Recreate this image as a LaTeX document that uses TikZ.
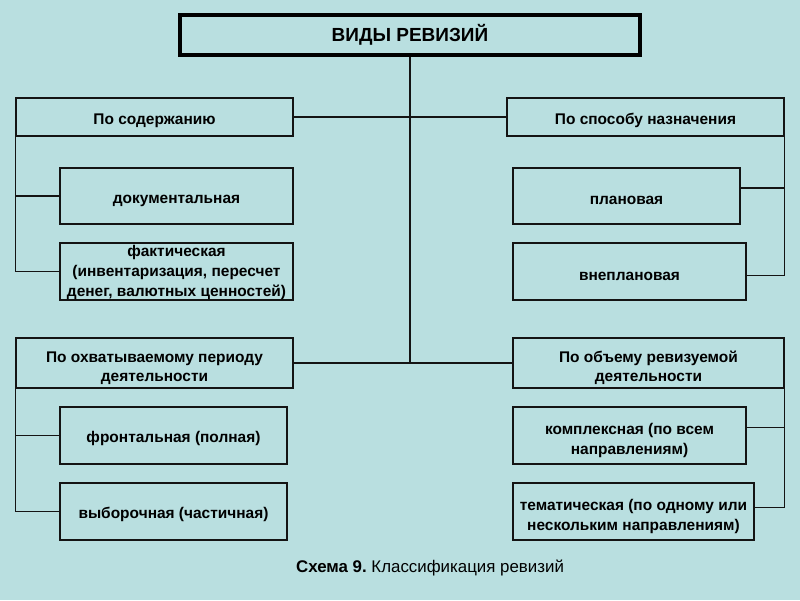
\documentclass[tikz,border=0pt]{standalone}
\usepackage{fontspec}
\setmainfont{Liberation Sans}
\usepackage{tikz}
\usetikzlibrary{positioning, calc}
\definecolor{bgteal}{RGB}{185,223,224}
\definecolor{mydark}{RGB}{20,20,20}
\tikzset{
  kind/.style={rectangle, draw=mydark, line width=0.8pt, align=center,
    font=\fontsize{11}{14}\selectfont\bfseries, inner sep=1pt,
    execute at begin node=\rule{0pt}{12.5pt}},
  twoline/.style={text height=29pt},
  threeline/.style={text height=37.5pt, inner ysep=0pt},
  title/.style={rectangle, draw=black, line width=2.8pt, align=center,
    font=\fontsize{13.5}{15}\selectfont\bfseries},
  line/.style={line width=0.8pt, color=mydark}
}
\begin{document}
\begin{tikzpicture}
  % background
  \fill[bgteal] (0,0) rectangle (20,15);
  \useasboundingbox (0,0) rectangle (20,15);

  % Title
  \node[title, minimum width=11.5cm, minimum height=1cm] (vidy) at (10.25,14.125) {ВИДЫ РЕВИЗИЙ};

  % Criteria
  \node[kind, minimum width=6.925cm, minimum height=0.95cm] (soderzh) at (3.8625,12.075) {По содержанию};
  \node[kind, minimum width=6.925cm, minimum height=0.95cm] (sposob) at (16.1375,12.075) {По способу назначения};
  \node[kind, twoline, minimum width=6.925cm, minimum height=1.25cm] (period) at (3.8625,5.925) {По охватываемому периоду\\деятельности};
  \node[kind, twoline, minimum width=6.775cm, minimum height=1.25cm] (obem) at (16.2125,5.925) {По объему ревизуемой\\деятельности};

  % Kinds by content
  \node[kind, minimum width=5.825cm, minimum height=1.4cm] (dokum) at (4.4125,10.1) {документальная};
  \node[kind, threeline, minimum width=5.825cm, minimum height=1.425cm] (fakt) at (4.4125,8.2125) {фактическая\\(инвентаризация, пересчет\\денег, валютных ценностей)};

  % Kinds by assignment
  \node[kind, minimum width=5.675cm, minimum height=1.4cm] (plan) at (15.6625,10.1) {плановая};
  \node[kind, minimum width=5.825cm, minimum height=1.425cm] (vneplan) at (15.7375,8.2125) {внеплановая};

  % Kinds by period
  \node[kind, minimum width=5.675cm, minimum height=1.425cm] (front) at (4.3375,4.1125) {фронтальная (полная)};
  \node[kind, minimum width=5.675cm, minimum height=1.425cm] (vybor) at (4.3375,2.2125) {выборочная (частичная)};

  % Kinds by volume
  \node[kind, twoline, minimum width=5.825cm, minimum height=1.425cm] (kompl) at (15.7375,4.1125) {комплексная (по всем\\направлениям)};
  \node[kind, twoline, minimum width=6.025cm, minimum height=1.425cm] (temat) at (15.8375,2.2125) {тематическая (по одному или\\нескольким направлениям)};

  % Caption
  \node[font=\fontsize{12}{14}\selectfont] (caption) at (10.75,0.8) {\textbf{Схема 9.}~Классификация ревизий};

  % Trunk and branches
  \draw[line] (vidy.south) -- (vidy.south |- period.east);
  \draw[line] (soderzh.east) -- (sposob.west);
  \draw[line] (period.east) -- (obem.west);

  % Brackets
  \draw[line] (soderzh.south west) |- (dokum.west);
  \draw[line] (soderzh.south west) |- (fakt.west);
  \draw[line] (sposob.south east) |- ([yshift=0.2cm]plan.east);
  \draw[line] (sposob.south east) |- ([yshift=-0.1cm]vneplan.east);
  \draw[line] (period.south west) |- (front.west);
  \draw[line] (period.south west) |- (vybor.west);
  \draw[line] (obem.south east) |- ([yshift=0.2cm]kompl.east);
  \draw[line] (obem.south east) |- ([yshift=0.1cm]temat.east);
\end{tikzpicture}
\end{document}
